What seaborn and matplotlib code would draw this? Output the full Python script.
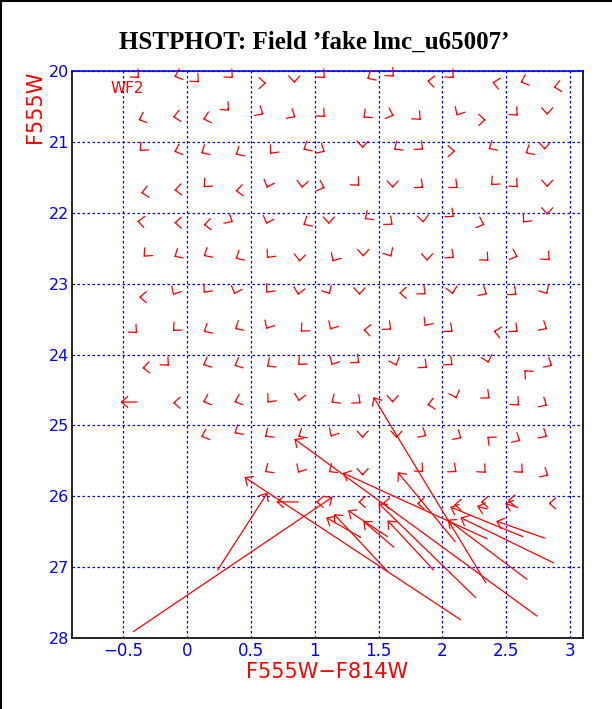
import numpy as np
import seaborn as sns
from matplotlib import pyplot as plt
from matplotlib.lines import Line2D
from matplotlib.ticker import MultipleLocator, FixedLocator, FixedFormatter

# small offsets (tip position, pointing angle in screen degrees)
small_x = [
    -0.375, -0.10, 0.094, 0.36, 0.62, 0.84, 1.08, 1.41, 1.62, 1.88, 2.09, 2.39, 2.61, 2.87,
    -0.38, -0.11, 0.125, 0.33, 0.60, 0.85, 1.08, 1.38, 1.62, 1.83, 2.11, 2.34, 2.59, 2.82,
    -0.37, -0.10, 0.11, 0.38, 0.65, 0.91, 1.08, 1.375, 1.62, 1.85, 2.10, 2.36, 2.65, 2.80,
    -0.36, -0.10, 0.13, 0.38, 0.625, 0.90, 1.08, 1.35, 1.61, 1.85, 2.12, 2.38, 2.59, 2.82,
    -0.39, -0.10, 0.13, 0.36, 0.62, 0.91, 1.11, 1.39, 1.61, 1.85, 2.09, 2.33, 2.63, 2.82,
    -0.34, -0.10, 0.13, 0.38, 0.625, 0.88, 1.14, 1.38, 1.60, 1.88, 2.09, 2.36, 2.59, 2.84,
    -0.375, -0.11, 0.13, 0.37, 0.62, 0.87, 1.12, 1.35, 1.66, 1.87, 2.08, 2.35, 2.58, 2.82,
    -0.39, -0.11, 0.13, 0.375, 0.62, 0.89, 1.12, 1.38, 1.60, 1.86, 2.08, 2.40, 2.59, 2.82,
    -0.35, -0.14, 0.125, 0.37, 0.625, 0.87, 1.13, 1.35, 1.64, 1.88, 2.08, 2.36, 2.64, 2.86,
    -0.11, 0.125, 0.37, 0.63, 0.875, 1.13, 1.36, 1.61, 1.88, 2.11, 2.37, 2.60, 2.82,
    0.11, 0.37, 0.61, 0.87, 1.125, 1.375, 1.64, 1.875, 2.15, 2.35, 2.61, 2.82,
    0.61, 0.87, 1.11, 1.375, 1.85, 2.11, 2.34, 2.63, 2.83,
    1.01, 1.34, 1.53, 1.80, 2.09, 2.30, 2.51, 2.83,
]
small_y = [
    20.10, 20.08, 20.16, 20.10, 20.17, 20.17, 20.10, 20.11, 20.08, 20.14, 20.10, 20.16, 20.16, 20.23,
    20.69, 20.65, 20.68, 20.56, 20.61, 20.65, 20.65, 20.66, 20.63, 20.69, 20.63, 20.69, 20.63, 20.62,
    21.13, 21.14, 21.16, 21.18, 21.17, 21.11, 21.14, 21.09, 21.11, 21.11, 21.13, 21.10, 21.16, 21.11,
    21.72, 21.68, 21.64, 21.69, 21.65, 21.65, 21.65, 21.62, 21.65, 21.65, 21.65, 21.61, 21.64, 21.64,
    22.12, 22.14, 22.17, 22.13, 22.16, 22.17, 22.16, 22.09, 22.17, 22.14, 22.06, 22.17, 22.14, 22.03,
    22.62, 22.62, 22.61, 22.65, 22.64, 22.69, 22.69, 22.62, 22.62, 22.68, 22.64, 22.68, 22.62, 22.67,
    23.19, 23.16, 23.13, 23.15, 23.13, 23.16, 23.15, 23.16, 23.13, 23.15, 23.15, 23.15, 23.16, 23.15,
    23.70, 23.67, 23.68, 23.64, 23.64, 23.68, 23.65, 23.65, 23.65, 23.60, 23.68, 23.67, 23.68, 23.64,
    24.19, 24.16, 24.15, 24.16, 24.17, 24.15, 24.15, 24.12, 24.16, 24.19, 24.15, 24.12, 24.22, 24.16,
    24.68, 24.67, 24.67, 24.68, 24.66, 24.68, 24.69, 24.68, 24.71, 24.62, 24.62, 24.72, 24.72,
    25.16, 25.11, 25.16, 25.16, 25.16, 25.18, 25.18, 25.15, 25.18, 25.16, 25.22, 25.16,
    25.66, 25.67, 25.66, 25.71, 25.66, 25.66, 25.67, 25.67, 25.71,
    26.08, 26.08, 26.10, 26.10, 26.12, 26.08, 26.06, 26.10,
]
small_angle = [
    315, 200, 315, 315, 0, 270, 315, 210, 315, 175, 315, 170, 200, 190,
    200, 190, 195, 315, 330, 330, 315, 220, 340, 315, 240, 0, 315, 270,
    225, 200, 210, 210, 230, 210, 330, 270, 215, 320, 0, 210, 210, 270,
    190, 185, 225, 185, 250, 265, 340, 315, 270, 320, 320, 225, 315, 270,
    175, 180, 185, 330, 250, 210, 270, 215, 320, 275, 320, 340, 230, 270,
    225, 210, 210, 210, 230, 265, 240, 270, 300, 270, 320, 315, 340, 315,
    180, 240, 230, 250, 230, 260, 300, 270, 180, 320, 280, 330, 320, 300,
    315, 225, 210, 210, 240, 225, 240, 175, 320, 235, 320, 170, 320, 330,
    185, 315, 205, 205, 215, 225, 240, 320, 290, 320, 320, 285, 135, 330,
    180, 200, 200, 230, 260, 215, 320, 270, 190, 290, 320, 315, 330,
    200, 210, 215, 210, 240, 270, 270, 330, 330, 140, 330, 330,
    215, 240, 215, 270, 315, 320, 315, 315, 330,
    180, 180, 180, 180, 180, 180, 180, 180,
]

# large offsets: tail (input) -> tip (recovered)
long_x0 = [-0.39, 2.34, -0.42, 0.24, 2.14, 2.74, 2.35, 2.10, 2.26, 1.93, 1.36, 1.57, 1.57, 1.62,
           2.63, 2.87, 2.66, 2.80, 2.35, 2.59, 0.87]
long_y0 = [24.67, 27.22, 27.91, 27.04, 27.74, 27.69, 26.60, 26.64, 27.43, 27.04, 26.58, 27.06, 26.57, 26.72,
           26.57, 26.94, 27.17, 26.59, 26.18, 26.16, 26.08]
long_x1 = [-0.52, 1.46, 1.14, 0.63, 0.45, 0.84, 1.22, 1.65, 1.50, 1.57, 1.09, 1.15, 1.26, 1.38,
           2.06, 2.14, 2.04, 2.42, 2.27, 2.49, 0.70]
long_y1 = [24.67, 24.60, 26.01, 25.95, 25.73, 25.19, 25.67, 25.66, 26.10, 26.34, 26.30, 26.25, 26.20, 26.35,
           26.15, 26.30, 26.33, 26.35, 26.14, 26.10, 26.08]

x_ticks = [-0.5, 0, 0.5, 1, 1.5, 2, 2.5, 3]
x_tick_labels = ['\u22120.5', '0', '0.5', '1', '1.5', '2', '2.5', '3']
y_ticks = [20, 21, 22, 23, 24, 25, 26, 27, 28]

sns.set_style('white')
plt.rcParams['font.family'] = ['DejaVu Sans']

fig = plt.figure(figsize=(6.12, 7.09), dpi=100)
ax = fig.add_axes([0.1176, 0.1001, 0.8350, 0.7997])

head = '->,head_length=0.45,head_width=0.4'
for x, y, a in zip(small_x, small_y, small_angle):
    r = np.deg2rad(a)
    ax.annotate('', xy=(x, y), xytext=(-1.5 * np.cos(r), -1.5 * np.sin(r)),
                textcoords='offset points', xycoords='data',
                arrowprops=dict(arrowstyle=head, color='red', lw=0.9,
                                shrinkA=0, shrinkB=0, mutation_scale=10))

for x0, y0, x1, y1 in zip(long_x0, long_y0, long_x1, long_y1):
    ax.annotate('', xy=(x1, y1), xytext=(x0, y0),
                arrowprops=dict(arrowstyle=head, color='red', lw=0.9,
                                shrinkA=0, shrinkB=0, mutation_scale=10))

ax.set_xlim(-0.9, 3.1)
ax.set_ylim(28, 20)

ax.xaxis.set_major_locator(FixedLocator(x_ticks))
ax.xaxis.set_major_formatter(FixedFormatter(x_tick_labels))
ax.xaxis.set_minor_locator(MultipleLocator(0.1))
ax.yaxis.set_major_locator(FixedLocator(y_ticks))
ax.yaxis.set_minor_locator(MultipleLocator(0.2))

ax.grid(True, which='major', color='blue', linestyle=(0, (2, 2)), linewidth=0.9)
ax.tick_params(axis='x', which='both', direction='in', color='blue', labelcolor='blue',
               length=5, width=0.9, labelsize=12, pad=3, top=False)
ax.tick_params(axis='y', which='both', direction='in', color='black', labelcolor='blue',
               length=5, width=0.9, labelsize=11.5, pad=2, right=False)

for side in ['left', 'bottom', 'right']:
    ax.spines[side].set_color('black')
ax.spines['top'].set_color('blue')
for side in ax.spines:
    ax.spines[side].set_linewidth(1.2)

ax.set_xlabel('F555W\u2212F814W', color='red', fontsize=15)
ax.xaxis.set_label_coords(0.5, -0.042)
ax.set_ylabel('F555W', color='red', fontsize=15, loc='top')
ax.yaxis.set_label_coords(-0.052, 1.0)

ax.text(-0.6, 20.25, 'WF2', color='red', fontsize=11, ha='left', va='center')

fig.text(0.513, 0.941, 'HSTPHOT: Field \u2019fake lmc_u65007\u2019', ha='center', va='center',
         fontsize=18, fontweight='bold', family='Liberation Serif', color='black')

fig.add_artist(Line2D([0.001, 0.001], [0, 1], color='black', lw=1.5, transform=fig.transFigure))
fig.add_artist(Line2D([0, 1], [0.999, 0.999], color='black', lw=1.5, transform=fig.transFigure))

fig.savefig('out.png', dpi=100)
